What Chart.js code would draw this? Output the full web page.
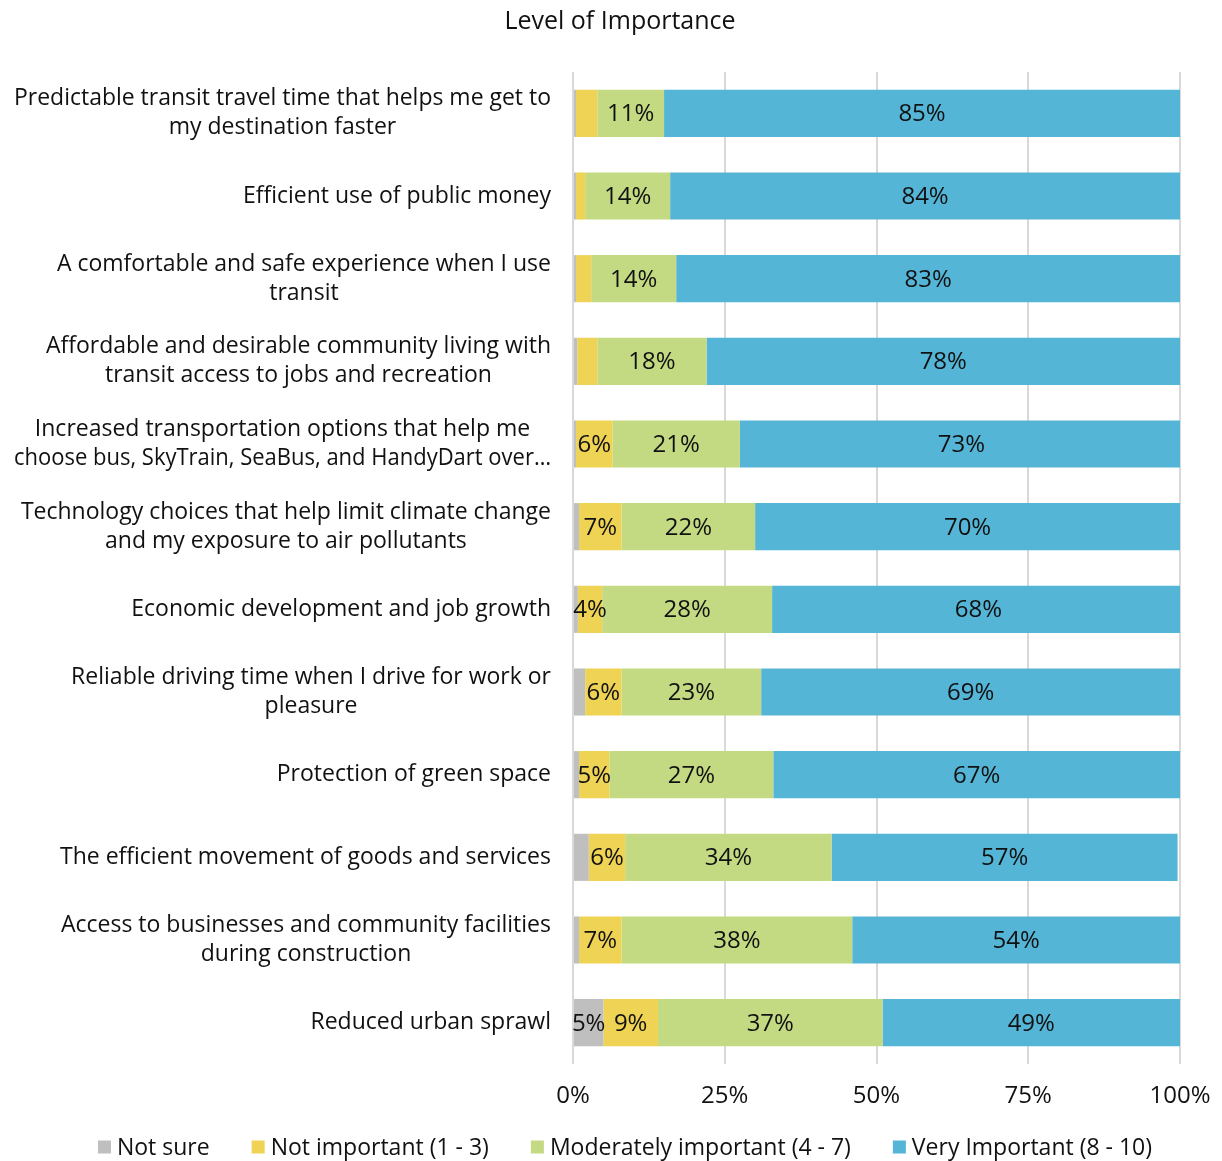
<!DOCTYPE html>
<html>
<head>
<meta charset="utf-8">
<title>Level of Importance</title>
<script src="https://cdn.jsdelivr.net/npm/chart.js@4.4.1/dist/chart.umd.min.js"></script>
<style>
  html, body { margin: 0; padding: 0; background: #ffffff; }
  #wrap { width: 1222px; height: 1161px; }
</style>
</head>
<body>
<div id="wrap"><canvas id="importanceChart" width="1222" height="1161"></canvas></div>
<script>
// Survey priorities, one row per item (label lines as drawn)
const categories = [
  ["Predictable transit travel time that helps me get to", "my destination faster"],
  ["Efficient use of public money"],
  ["A comfortable and safe experience when I use", "transit"],
  ["Affordable and desirable community living with", "transit access to jobs and recreation"],
  ["Increased transportation options that help me", "choose bus, SkyTrain, SeaBus, and HandyDart over\u2026"],
  ["Technology choices that help limit climate change", "and my exposure to air pollutants"],
  ["Economic development and job growth"],
  ["Reliable driving time when I drive for work or", "pleasure"],
  ["Protection of green space"],
  ["The efficient movement of goods and services"],
  ["Access to businesses and community facilities", "during construction"],
  ["Reduced urban sprawl"]
];

const seriesNames = ["Not sure", "Not important (1 - 3)", "Moderately important (4 - 7)", "Very Important (8 - 10)"];

// percentages per row
const notSure       = [0.5, 0.5, 0.5, 0.7, 0.5, 1, 0.8, 2, 1, 2.6, 1, 5];
const notImportant  = [3.5, 1.5, 2.5, 3.3, 6, 7, 4, 6, 5, 6, 7, 9];
const moderately    = [11, 14, 14, 18, 21, 22, 28, 23, 27, 34, 38, 37];
const veryImportant = [85, 84, 83, 78, 73, 70, 68, 69, 67, 57, 54, 49];

const xTicks = [0, 25, 50, 75, 100];

const colors = ["#bfbfbf", "#efd354", "#c3d982", "#55b5d6"];
const FONT = '"Open Sans", "Noto Sans", sans-serif';
const textColor = "#111111";
const titleText = "Level of Importance";

// title, wrapped category labels and the legend row
const chartText = {
  id: "chartText",
  afterDraw(chart) {
    const ctx = chart.ctx;
    const yScale = chart.scales.y;
    ctx.save();
    ctx.fillStyle = textColor;
    ctx.textBaseline = "middle";

    // title
    ctx.font = "25px " + FONT;
    ctx.textAlign = "center";
    ctx.fillText(titleText, 620, 22);

    // category labels: lines centred on each other, block right-aligned to the axis
    const right = chart.chartArea.left - 22;
    const lineH = 29;
    const maxW = 537;
    ctx.font = "23px " + FONT;
    categories.forEach((lines, i) => {
      const cy = yScale.getPixelForValue(i);
      const w = Math.min(maxW, Math.max(...lines.map(l => ctx.measureText(l).width)));
      const cx = right - w / 2;
      lines.forEach((line, j) => {
        ctx.fillText(line, cx, cy + (j - (lines.length - 1) / 2) * lineH, maxW);
      });
    });

    // legend
    const box = 13, gapText = 6, gapItem = 42, legendY = 1147;
    ctx.textAlign = "left";
    const widths = seriesNames.map(n => box + gapText + ctx.measureText(n).width);
    const total = widths.reduce((a, b) => a + b, 0) + gapItem * (widths.length - 1);
    let x = 625 - total / 2;
    seriesNames.forEach((name, i) => {
      ctx.fillStyle = colors[i];
      ctx.fillRect(x, legendY - box / 2, box, box);
      ctx.fillStyle = textColor;
      ctx.fillText(name, x + box + gapText, legendY + 1);
      x += widths[i] + gapItem;
    });
    ctx.restore();
  }
};

// value labels in the middle of each segment (small slivers left blank)
const segmentLabels = {
  id: "segmentLabels",
  afterDatasetsDraw(chart) {
    const ctx = chart.ctx;
    ctx.save();
    ctx.font = "24px " + FONT;
    ctx.fillStyle = textColor;
    ctx.textAlign = "center";
    ctx.textBaseline = "middle";
    chart.data.datasets.forEach((ds, di) => {
      const meta = chart.getDatasetMeta(di);
      meta.data.forEach((bar, i) => {
        const v = ds.data[i];
        if (v < 4) return;
        ctx.fillText(v + "%", (bar.x + bar.base) / 2, bar.y + 1);
      });
    });
    ctx.restore();
  }
};

const ctx = document.getElementById("importanceChart").getContext("2d");
new Chart(ctx, {
  type: "bar",
  data: {
    labels: categories.map(c => c.join(" ")),
    datasets: [notSure, notImportant, moderately, veryImportant].map((values, i) => ({
      label: seriesNames[i],
      data: values,
      backgroundColor: colors[i],
      borderWidth: 0,
      categoryPercentage: 1,
      barPercentage: 0.57
    }))
  },
  options: {
    indexAxis: "y",
    responsive: false,
    animation: false,
    layout: { padding: { left: 0, right: 42, top: 72, bottom: 0 } },
    plugins: {
      title: { display: false },
      legend: { display: false },
      tooltip: { enabled: false }
    },
    scales: {
      x: {
        stacked: true,
        min: 0,
        max: 100,
        afterBuildTicks(scale) {
          scale.ticks = xTicks.map(v => ({ value: v }));
        },
        afterFit(scale) {
          scale.height = 97;
          scale.paddingLeft = 0;
          scale.paddingRight = 0;
        },
        ticks: {
          color: textColor,
          font: { family: FONT, size: 24 },
          padding: 18,
          callback: v => v + "%"
        },
        grid: { color: "#d9d9d9", lineWidth: 2, drawTicks: false },
        border: { display: false }
      },
      y: {
        stacked: true,
        afterFit(scale) { scale.width = 573; },
        ticks: { display: false },
        grid: { display: false },
        border: { display: false }
      }
    }
  },
  plugins: [chartText, segmentLabels]
});
</script>
</body>
</html>
